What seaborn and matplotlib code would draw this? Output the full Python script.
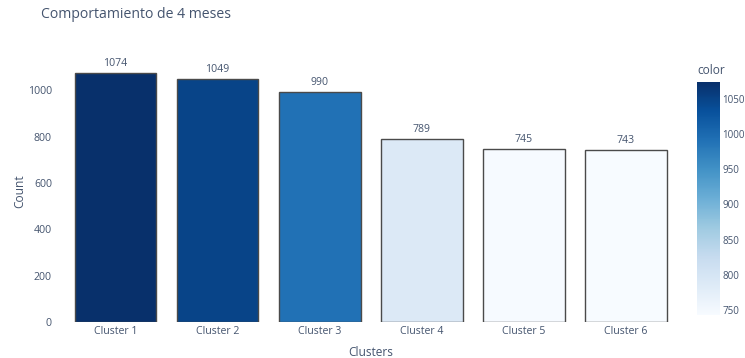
import matplotlib
matplotlib.use("Agg")
import matplotlib.pyplot as plt
import seaborn as sns
import numpy as np
import pandas as pd
from matplotlib.colors import Normalize
from matplotlib.cm import ScalarMappable

clusters = ["Cluster 1", "Cluster 2", "Cluster 3", "Cluster 4", "Cluster 5", "Cluster 6"]
counts = [1074, 1049, 990, 789, 745, 743]
cbar_ticks = [750, 800, 850, 900, 950, 1000, 1050]
y_ticks = [0, 200, 400, 600, 800, 1000]

sns.set_theme(style="white")
plt.rcParams['font.family'] = ['Open Sans', 'DejaVu Sans']
txt = "#44546e"

df = pd.DataFrame({"Clusters": clusters, "Count": counts})
cmap = plt.get_cmap("Blues")
norm = Normalize(vmin=min(counts), vmax=max(counts))
palette = {c: cmap(norm(v)) for c, v in zip(clusters, counts)}

fig = plt.figure(figsize=(7.45, 3.58), dpi=100)
ax = fig.add_axes([64.5/745, 36/358, 612.5/745, 262/358])
sns.barplot(data=df, x="Clusters", y="Count", hue="Clusters", palette=palette,
            legend=False, ax=ax, width=0.8, edgecolor="#4a4a4a", linewidth=1.0,
            saturation=1)
ax.set_xlim(-0.5, 5.5)
ax.set_ylim(0, 1130)
ax.set_yticks(y_ticks)
for s in ax.spines.values():
    s.set_visible(False)
ax.tick_params(axis="both", length=0, labelsize=7.6, colors=txt)
ax.tick_params(axis="y", pad=9)
ax.tick_params(axis="x", pad=3)
ax.set_xlabel("Clusters", fontsize=8.6, color=txt, labelpad=6)
ax.set_ylabel("Count", fontsize=8.6, color=txt, labelpad=1)
for cont in ax.containers:
    ax.bar_label(cont, fmt="%d", padding=3, fontsize=7.6, color=txt)

fig.text(41/745, 1 - 15/358, "Comportamiento de 4 meses", fontsize=10.1, color=txt,
         ha="left", va="center")

cax = fig.add_axes([697/745, 43/358, 23/745, 233/358])
sm = ScalarMappable(norm=norm, cmap=cmap)
cb = fig.colorbar(sm, cax=cax)
cb.outline.set_visible(False)
cb.set_ticks(cbar_ticks)
cax.tick_params(length=0, labelsize=7.0, colors=txt, pad=1.5)
fig.text(697/745, 1 - 71/358, "color", fontsize=8.6, color=txt, ha="left", va="center")

fig.savefig("out.png", dpi=100)
